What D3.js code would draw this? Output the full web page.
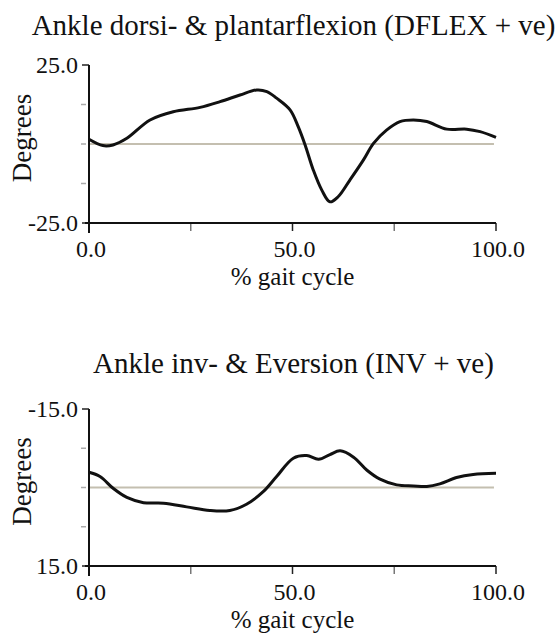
<!DOCTYPE html>
<html>
<head>
<meta charset="utf-8">
<script src="https://cdn.jsdelivr.net/npm/d3@7"></script>
<style>
  body { margin: 0; background: white; }
</style>
</head>
<body>
<svg id="display"></svg>
<script>
"use strict";

var width = 560,
    height = 634;
var serif = "'Liberation Serif', 'Times New Roman', 'DejaVu Serif', serif";

// ankle dorsi/plantarflexion
var dfGait = [0, 3.4, 5.9, 9.3, 15, 20.7, 27.3, 32.2, 37.1, 41.2, 43.7, 46.1, 49.4, 51.4, 53.1, 55.1, 57.2, 59.2, 61.2, 64.1, 67.4, 69.9, 73.1, 76.4, 79.7, 83, 87.9, 92.8, 96.1, 100];
var dfDeg  = [1.5, -0.5, -0.3, 1.8, 7.6, 10.2, 11.6, 13.4, 15.5, 17.1, 16.6, 14.5, 10.8, 5.5, -0.3, -8.2, -14.6, -18.3, -16.7, -11.4, -5.1, 0.2, 4.4, 7.1, 7.6, 7.1, 4.7, 4.7, 3.9, 2.1];

// ankle inversion/eversion
var invGait = [0, 2.7, 6, 9.3, 13.4, 18.3, 24, 29.7, 34.6, 38.7, 42.8, 46.1, 50.2, 53.5, 56.4, 59.2, 61.7, 65, 68.3, 71.5, 75.6, 79.7, 83, 86.2, 90.3, 94.4, 100];
var invDeg  = [-2.9, -2.1, 0.2, 1.9, 2.9, 3.0, 3.7, 4.4, 4.4, 3.2, 0.8, -2.1, -5.6, -6.1, -5.4, -6.3, -7.0, -5.8, -3.3, -1.6, -0.5, -0.3, -0.2, -0.7, -1.9, -2.5, -2.7];

var xTicks = [0, 25, 50, 75, 100];
var xLabels = ["0.0", "", "50.0", "", "100.0"];

var charts = [
  { title: "Ankle dorsi- & plantarflexion (DFLEX + ve)", gait: dfGait, deg: dfDeg,
    domain: [25, -25], yLabels: ["25.0", "-25.0"], top: 65, bottom: 223, titleY: 35 },
  { title: "Ankle inv- & Eversion (INV + ve)", gait: invGait, deg: invDeg,
    domain: [-15, 15], yLabels: ["-15.0", "15.0"], top: 409, bottom: 566, titleY: 373 }
];

var svg = d3.select('#display').attr('width', width).attr('height', height);

var x = d3.scaleLinear().domain([0, 100]).range([89, 496]);

function label(sel, size) {
  return sel.attr('font-family', serif).style('font-family', serif)
    .style('font-size', size + 'px').attr('fill', '#111');
}

charts.forEach(function(c) {
  var y = d3.scaleLinear().domain(c.domain).range([c.top, c.bottom]);
  var g = svg.append('g');
  var mid = (c.domain[0] + c.domain[1]) / 2;
  var yTicks = [c.domain[0], (c.domain[0] + mid) / 2, mid, (c.domain[1] + mid) / 2, c.domain[1]];

  label(g.append('text'), 29)
    .attr('x', (x(0) + x(100)) / 2 + 1)
    .attr('y', c.titleY)
    .attr('text-anchor', 'middle')
    .text(c.title);

  // zero line
  g.append('line')
    .attr('x1', x(0)).attr('x2', x(99.5))
    .attr('y1', y(0)).attr('y2', y(0))
    .attr('stroke', '#c4bfb0')
    .attr('stroke-width', 2);

  // y ticks
  g.selectAll('.ytick').data(yTicks).enter().append('line')
    .attr('x1', function(d, i){ return (i == 0 || i == 4) ? 82 : 81; })
    .attr('x2', function(d, i){ return (i == 0 || i == 4) ? x(0) : 86; })
    .attr('y1', function(d){ return y(d); })
    .attr('y2', function(d){ return y(d); })
    .attr('stroke', function(d, i){ return (i == 0 || i == 4) ? '#222' : '#aaa'; })
    .attr('stroke-width', 1.5);

  label(g.selectAll('.ylab').data(c.yLabels).enter().append('text'), 24)
    .attr('x', 78)
    .attr('y', function(d, i){ return y(c.domain[i]) + 8; })
    .attr('text-anchor', 'end')
    .text(function(d){ return d; });

  // x ticks
  g.selectAll('.xtick').data(xTicks).enter().append('line')
    .attr('x1', function(d){ return x(d); })
    .attr('x2', function(d){ return x(d); })
    .attr('y1', c.bottom)
    .attr('y2', c.bottom + 8)
    .attr('stroke', function(d, i){ return i % 2 ? '#777' : '#222'; })
    .attr('stroke-width', 1.5);

  label(g.selectAll('.xlab').data(xLabels).enter().append('text'), 24)
    .attr('x', function(d, i){ return x(xTicks[i]) + 2; })
    .attr('y', c.bottom + 34)
    .attr('text-anchor', 'middle')
    .text(function(d){ return d; });

  // axes
  g.append('line')
    .attr('x1', x(0)).attr('x2', x(0))
    .attr('y1', c.top).attr('y2', c.bottom + 10)
    .attr('stroke', '#111').attr('stroke-width', 2);
  g.append('line')
    .attr('x1', x(0) - 4).attr('x2', x(100))
    .attr('y1', c.bottom).attr('y2', c.bottom)
    .attr('stroke', '#111').attr('stroke-width', 2);

  label(g.append('text'), 25)
    .attr('x', (x(0) + x(100)) / 2)
    .attr('y', c.bottom + 62)
    .attr('text-anchor', 'middle')
    .text('% gait cycle');

  label(g.append('text'), 27)
    .attr('transform', 'translate(31,' + ((c.top + c.bottom) / 2 - 6) + ') rotate(-90)')
    .attr('text-anchor', 'middle')
    .text('Degrees');

  var line = d3.line()
    .x(function(d, i){ return x(c.gait[i]); })
    .y(function(d){ return y(d); })
    .curve(d3.curveCatmullRom);

  g.append('path')
    .datum(c.deg)
    .attr('d', line)
    .attr('fill', 'none')
    .attr('stroke', '#111')
    .attr('stroke-width', 3);
});
</script>
</body>
</html>
